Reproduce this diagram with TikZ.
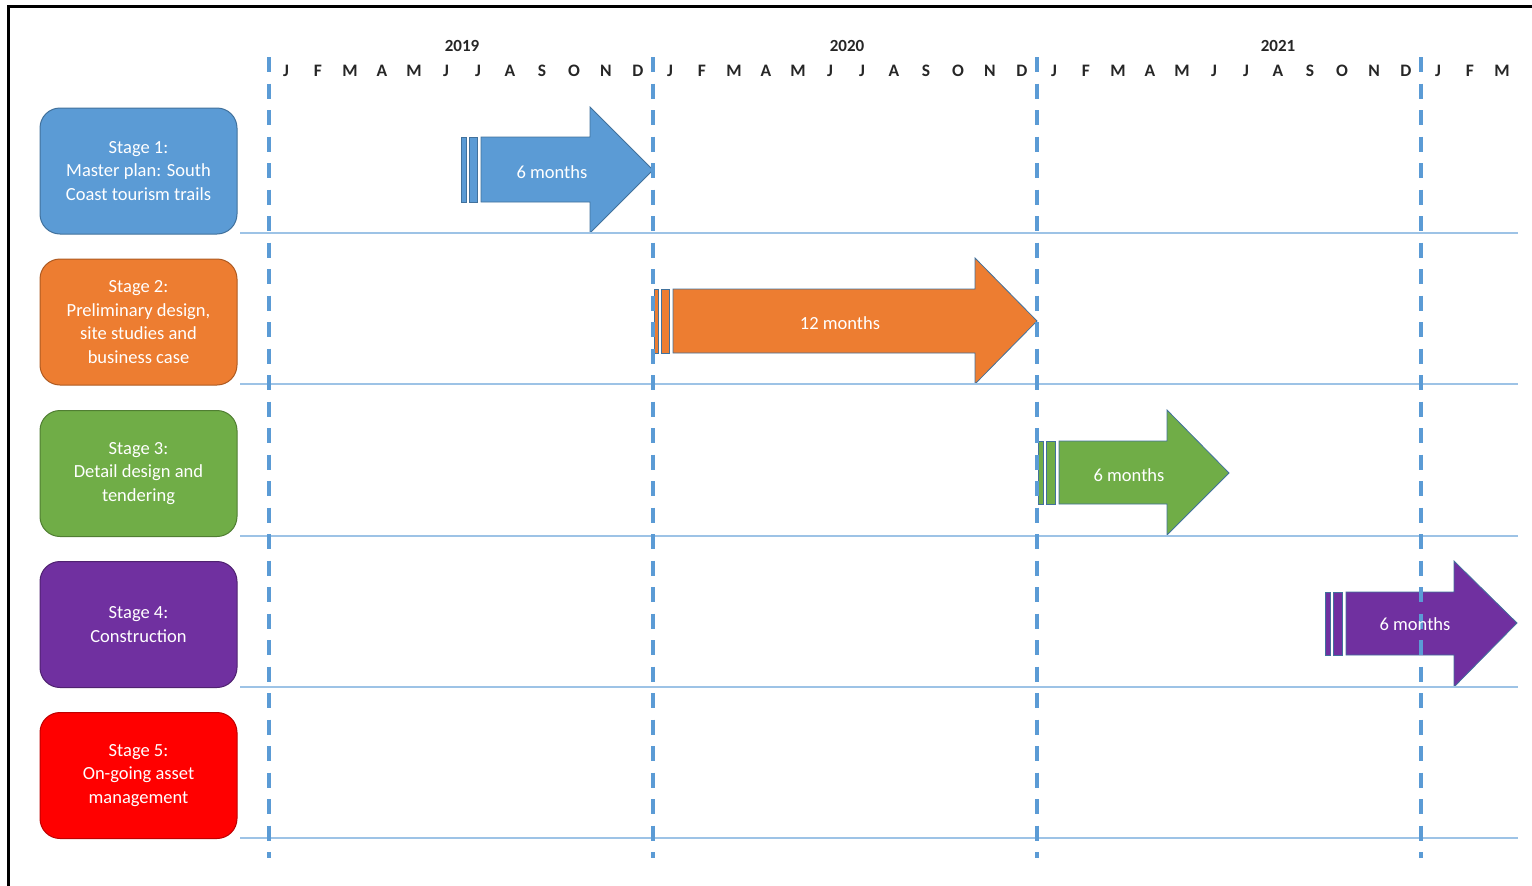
\documentclass[tikz,border=0pt]{standalone}
\usepackage{fontspec}
\setmainfont{Carlito}
\definecolor{sblue}{HTML}{5B9BD5}
\definecolor{sblueD}{HTML}{41719C}
\definecolor{sorange}{HTML}{ED7D31}
\definecolor{sorangeD}{HTML}{AE5A21}
\definecolor{sgreen}{HTML}{70AD47}
\definecolor{sgreenD}{HTML}{507E32}
\definecolor{spurple}{HTML}{7030A0}
\definecolor{spurpleD}{HTML}{4F2270}
\definecolor{sred}{HTML}{FF0000}
\definecolor{sredD}{HTML}{BE0000}
\definecolor{grid}{HTML}{5B9BD5}
\definecolor{rowline}{HTML}{9DC3E6}
\begin{document}
\begin{tikzpicture}[x=1pt,y=-1pt,
  stagebox/.style={rounded corners=20pt, minimum width=197pt, minimum height=126pt,
    text=white, align=center, font=\fontsize{18.5}{23.5}\selectfont, line width=1pt, inner sep=0pt},
  monthlbl/.style={font=\fontsize{17.5}{18}\selectfont\bfseries, text=black!85, inner sep=0pt},
  yearlbl/.style={font=\fontsize{17}{18}\selectfont\bfseries, text=black!85, inner sep=0pt},
  arrowtxt/.style={text=white, font=\fontsize{18.5}{20}\selectfont, inner sep=0pt},
  yeardiv/.style={grid, line width=3.5pt, dash pattern=on 15pt off 11.5pt},
  rowsep/.style={rowline, line width=1.5pt},
  bar/.style={line width=0.8pt}
]
\useasboundingbox (0,0) rectangle (1532,886);
% frame
\draw[line width=3pt] (8,886) -- (8,6) -- (1532,6);

% stage boxes
\node[stagebox, fill=sblue, draw=sblueD] (s1) at (138.5,171) {Stage 1:\\Master plan: South\\Coast tourism trails};
\node[stagebox, fill=sorange, draw=sorangeD] (s2) at (138.5,322) {Stage 2:\\Preliminary design,\\site studies and\\business case};
\node[stagebox, fill=sgreen, draw=sgreenD] (s3) at (138.5,473.5) {Stage 3:\\Detail design and\\tendering};
\node[stagebox, fill=spurple, draw=spurpleD] (s4) at (138.5,624.5) {Stage 4:\\Construction};
\node[stagebox, fill=sred, draw=sredD] (s5) at (138.5,775.5) {Stage 5:\\On-going asset\\management};

% arrows
% stage 1
\filldraw[bar, fill=sblue, draw=sblueD] (461,137) rectangle (466,202);
\filldraw[bar, fill=sblue, draw=sblueD] (469,137) rectangle (477,202);
\filldraw[bar, fill=sblue, draw=sblueD] (481,137) -- (590,137) -- (590,107) -- (653,170) -- (590,233) -- (590,202) -- (481,202) -- cycle;
% stage 2
\filldraw[bar, fill=sorange, draw=sblueD] (654,289) rectangle (658,353);
\filldraw[bar, fill=sorange, draw=sblueD] (661,289) rectangle (669,353);
\filldraw[bar, fill=sorange, draw=sblueD] (673,289) -- (975,289) -- (975,258) -- (1037,321) -- (975,384) -- (975,353) -- (673,353) -- cycle;
% stage 3
\filldraw[bar, fill=sgreen, draw=sblueD] (1038,441) rectangle (1043,504);
\filldraw[bar, fill=sgreen, draw=sblueD] (1046,441) rectangle (1055,504);
\filldraw[bar, fill=sgreen, draw=sblueD] (1059,441) -- (1167,441) -- (1167,410) -- (1229,473) -- (1167,535) -- (1167,504) -- (1059,504) -- cycle;
% stage 4
\filldraw[bar, fill=spurple, draw=sblueD] (1325,592) rectangle (1330,655);
\filldraw[bar, fill=spurple, draw=sblueD] (1333,592) rectangle (1342,655);
\filldraw[bar, fill=spurple, draw=sblueD] (1346,592) -- (1454,592) -- (1454,561) -- (1517,623) -- (1454,687) -- (1454,655) -- (1346,655) -- cycle;

% row separators
\foreach \y/\n in {233/r1,384/r2,536/r3,687/r4,838/r5} {
  \coordinate (\n a) at (240,\y);
  \coordinate (\n b) at (1518,\y);
  \draw[rowsep] (\n a) -- (\n b);
}
% year dividers
\foreach \x/\n in {269/d0,653/d1,1037/d2,1421/d3} {
  \coordinate (\n t) at (\x,57);
  \coordinate (\n b) at (\x,858);
  \draw[yeardiv] (\n t) -- (\n b);
}

% arrow labels
\node[arrowtxt] (a1) at (552,172) {6 months};
\node[arrowtxt] (a2) at (840,323) {12 months};
\node[arrowtxt] (a3) at (1129,475) {6 months};
\node[arrowtxt] (a4) at (1415,624) {6 months};

% years
\node[yearlbl] (y2019) at (462,46) {2019};
\node[yearlbl] (y2020) at (847,46) {2020};
\node[yearlbl] (y2021) at (1278,46) {2021};

% months
\foreach \m [count=\k from 0] in {J,F,M,A,M,J,J,A,S,O,N,D,J,F,M,A,M,J,J,A,S,O,N,D,J,F,M,A,M,J,J,A,S,O,N,D,J,F,M} {
  \node[monthlbl] (m\k) at ({286+32*\k},71) {\m};
}
\end{tikzpicture}
\end{document}
